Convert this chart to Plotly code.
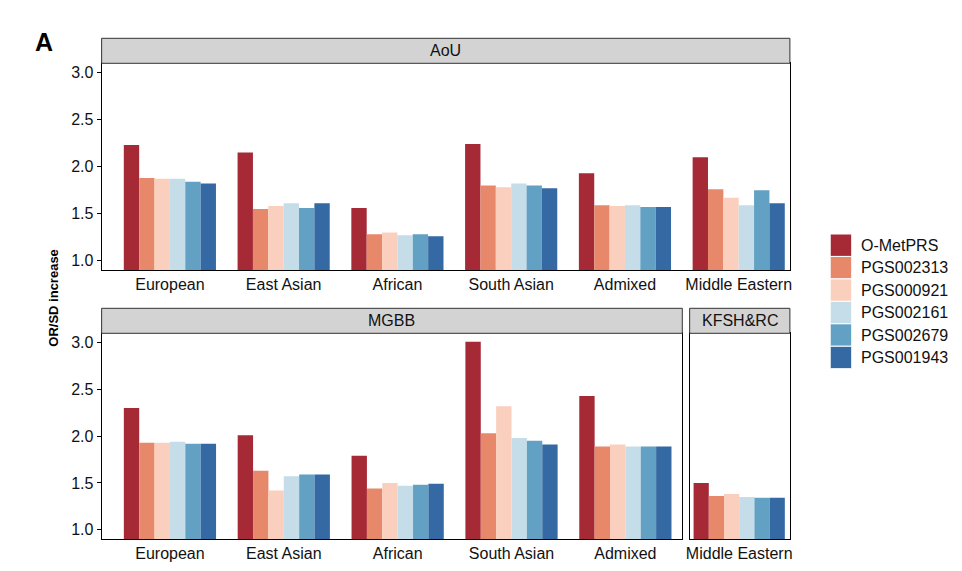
import plotly.graph_objects as go

# ---------------- data ----------------
series = ["O-MetPRS", "PGS002313", "PGS000921", "PGS002161", "PGS002679", "PGS001943"]
colors = ["#A62936", "#E8886B", "#FBCFBD", "#C4DDE8", "#63A1C4", "#3569A4"]

aou_groups = ["European", "East Asian", "African", "South Asian", "Admixed", "Middle Eastern"]
aou_omet = [2.23, 2.15, 1.56, 2.24, 1.93, 2.10]
aou_pgs002313 = [1.88, 1.55, 1.28, 1.80, 1.59, 1.76]
aou_pgs000921 = [1.87, 1.58, 1.30, 1.78, 1.58, 1.67]
aou_pgs002161 = [1.87, 1.61, 1.27, 1.82, 1.59, 1.59]
aou_pgs002679 = [1.84, 1.56, 1.28, 1.80, 1.57, 1.75]
aou_pgs001943 = [1.82, 1.61, 1.26, 1.77, 1.57, 1.61]

mgbb_groups = ["European", "East Asian", "African", "South Asian", "Admixed"]
mgbb_omet = [2.30, 2.01, 1.79, 3.01, 2.43]
mgbb_pgs002313 = [1.93, 1.63, 1.44, 2.03, 1.89]
mgbb_pgs000921 = [1.93, 1.42, 1.50, 2.32, 1.91]
mgbb_pgs002161 = [1.94, 1.57, 1.47, 1.98, 1.89]
mgbb_pgs002679 = [1.92, 1.59, 1.48, 1.95, 1.89]
mgbb_pgs001943 = [1.92, 1.59, 1.49, 1.91, 1.89]

kfsh_groups = ["Middle Eastern"]
kfsh_omet = [1.50]
kfsh_pgs002313 = [1.36]
kfsh_pgs000921 = [1.38]
kfsh_pgs002161 = [1.35]
kfsh_pgs002679 = [1.34]
kfsh_pgs001943 = [1.34]

y_ticks = [1.0, 1.5, 2.0, 2.5, 3.0]
y_ticktext = ["1.0", "1.5", "2.0", "2.5", "3.0"]

panels = [
    ("AoU", aou_groups, [aou_omet, aou_pgs002313, aou_pgs000921, aou_pgs002161, aou_pgs002679, aou_pgs001943]),
    ("MGBB", mgbb_groups, [mgbb_omet, mgbb_pgs002313, mgbb_pgs000921, mgbb_pgs002161, mgbb_pgs002679, mgbb_pgs001943]),
    ("KFSH&RC", kfsh_groups, [kfsh_omet, kfsh_pgs002313, kfsh_pgs000921, kfsh_pgs002161, kfsh_pgs002679, kfsh_pgs001943]),
]

# ---------------- layout geometry (viewport pixels) ----------------
OFF = 8  # page body margin
W, H = 962 - 2 * OFF, 571 - 2 * OFF
FONT = "Liberation Sans, Arial, sans-serif"
def px(x): return (x - OFF) / W
def py(y): return 1 - (y - OFF) / H

# (left, right, top, bottom, xrange)
geom = [
    (98.3, 791.7, 63.3, 270.0, [-0.6, 5.45]),
    (98.3, 683.3, 333.3, 539.0, [-0.6, 4.5]),
    (690.7, 791.7, 333.3, 539.0, [-0.44, 0.45]),
]
strip_h = 25

fig = go.Figure()
shapes = []
annotations = []

for i, ((name, groups, vals), (l, r, t, b, xr)) in enumerate(zip(panels, geom)):
    sfx = "" if i == 0 else str(i + 1)
    for s, c, v in zip(series, colors, vals):
        fig.add_trace(go.Bar(
            x=groups, y=v, name=s, marker=dict(color=c, line=dict(width=0)),
            xaxis="x" + sfx, yaxis="y" + sfx, showlegend=False,
            hovertemplate="%{x}<br>" + s + ": %{y:.2f}<extra></extra>",
        ))
    xa = dict(domain=[px(l), px(r)], anchor="y" + sfx, type="category",
              categoryorder="array", categoryarray=groups, range=xr,
              showline=True, linecolor="black", linewidth=1, mirror=True,
              ticks="", showgrid=False, zeroline=False,
              tickfont=dict(family=FONT, size=16, color="#111"))
    ya = dict(domain=[py(b), py(t)], anchor="x" + sfx, range=[0.9, 3.1],
              showline=True, linecolor="black", linewidth=1, mirror=True,
              showgrid=False, zeroline=False,
              tickvals=y_ticks, ticktext=y_ticktext,
              tickfont=dict(family=FONT, size=16, color="#111"))
    if i == 2:
        ya.update(showticklabels=False, ticks="")
    else:
        ya.update(ticks="outside", ticklen=4, tickcolor="black", tickwidth=1)
    fig.update_layout(**{"xaxis" + sfx: xa, "yaxis" + sfx: ya})
    # strip
    shapes.append(dict(type="rect", xref="paper", yref="paper",
                       x0=px(l), x1=px(r), y0=py(t), y1=py(t - strip_h),
                       fillcolor="#D3D3D3", line=dict(color="#333333", width=1), layer="above"))
    annotations.append(dict(x=px((l + r) / 2), y=py(t - strip_h / 2), xref="paper", yref="paper",
                            text=name, showarrow=False, xanchor="center", yanchor="middle",
                            font=dict(family=FONT, size=16, color="#111")))

# legend (manual)
leg_x0, leg_x1, leg_y0, leg_h = 832.3, 854.0, 234.0, 22.45
for k, (s, c) in enumerate(zip(series, colors)):
    y0 = leg_y0 + k * leg_h
    shapes.append(dict(type="rect", xref="paper", yref="paper",
                       x0=px(leg_x0), x1=px(leg_x1), y0=py(y0), y1=py(y0 + leg_h),
                       fillcolor=c, line=dict(color="white", width=1)))
    annotations.append(dict(x=px(861.5), y=py(y0 + leg_h / 2), xref="paper", yref="paper",
                            text=s, showarrow=False, xanchor="left", yanchor="middle",
                            font=dict(family=FONT, size=16, color="#111")))

# y title and panel label
annotations.append(dict(x=px(49), y=py(298), xref="paper", yref="paper", text="<b>OR/SD increase</b>",
                        textangle=-90, showarrow=False, xanchor="center", yanchor="middle",
                        font=dict(family=FONT, size=13, color="black")))
annotations.append(dict(x=px(40), y=py(42), xref="paper", yref="paper", text="<b>A</b>",
                        showarrow=False, xanchor="center", yanchor="middle",
                        font=dict(family=FONT, size=25, color="black")))

fig.update_layout(
    width=W, height=H, margin=dict(l=0, r=0, t=0, b=0),
    paper_bgcolor="white", plot_bgcolor="white",
    barmode="group", bargap=0.19, bargroupgap=0,
    shapes=shapes, annotations=annotations, showlegend=False,
    font=dict(family=FONT),
)

fig.write_html("out.html")
